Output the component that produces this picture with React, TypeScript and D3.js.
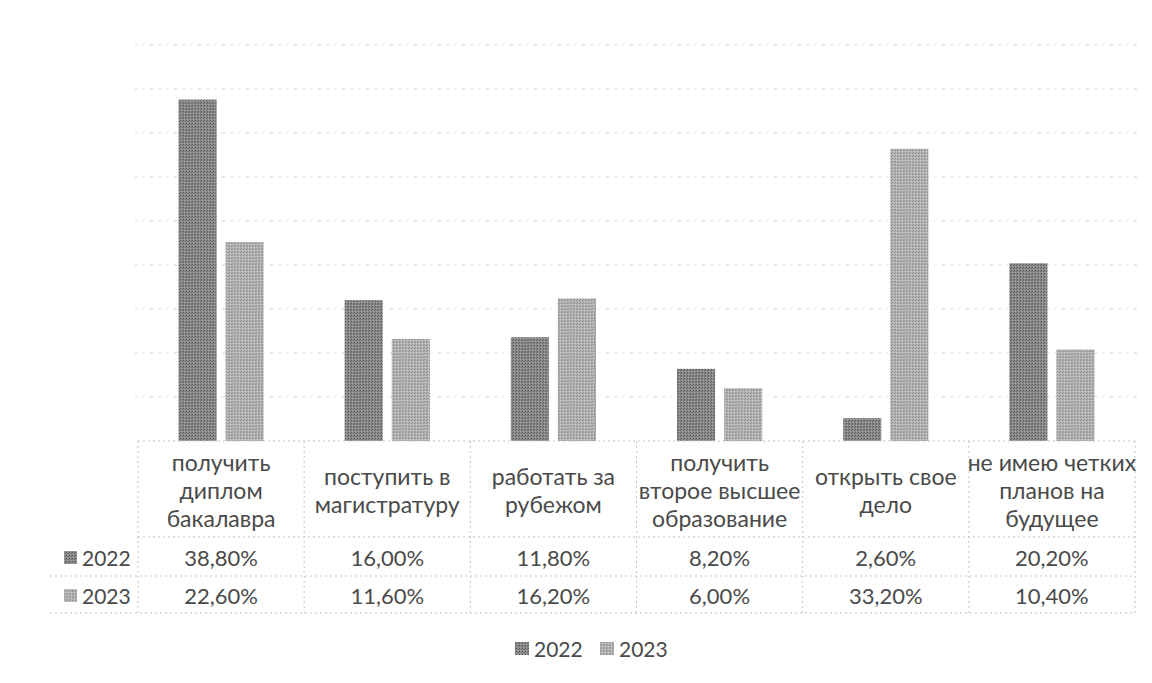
import React from "react";
import * as d3 from "d3";

const categories = [
  "получить диплом бакалавра",
  "поступить в магистратуру",
  "работать за рубежом",
  "получить второе высшее образование",
  "открыть свое дело",
  "не имею четких планов на будущее",
];
const categoryLines = [
  ["получить", "диплом", "бакалавра"],
  ["поступить в", "магистратуру"],
  ["работать за", "рубежом"],
  ["получить", "второе высшее", "образование"],
  ["открыть свое", "дело"],
  ["не имею четких", "планов на", "будущее"],
];
const seriesNames = ["2022", "2023"];
const values2022 = [38.8, 16.0, 11.8, 8.2, 2.6, 20.2];
const values2023 = [22.6, 11.6, 16.2, 6.0, 33.2, 10.4];
const yTicks = [0, 5, 10, 15, 20, 25, 30, 35, 40, 45];

const W = 1152;
const H = 683;
const FONT = "Lato, 'Open Sans', sans-serif";
const TEXT = "#4a4a4a";

const locale = d3.formatLocale({ decimal: ",", thousands: " ", grouping: [3], currency: ["", ""] });
const fmt = locale.format(".2f");

export default function App() {
  const left = 138;
  const right = 1135;
  const base = 441;
  const x0 = d3.scaleBand<string>().domain(categories).range([left, right]).paddingInner(0).paddingOuter(0);
  const x1 = d3
    .scaleBand<string>()
    .domain(seriesNames)
    .range([0, x0.bandwidth()])
    .paddingInner(0.19)
    .paddingOuter(0.86);
  const y = d3.scaleLinear().domain([0, 45]).range([base, 45]);

  const series = [
    { name: "2022", values: values2022 },
    { name: "2023", values: values2023 },
  ];

  const rowLabelY = [557, 595];
  const hLines = [base, 537, 576, 613];
  const lineH = 28;
  const labelMid = 490;
  const rowHeadLeft = 50;
  const border = "#c4c4c4";

  return (
    <svg width={W} height={H} style={{ display: "block", margin: "-8px", background: "#fff" }}>
      <defs>
        <pattern id="dither2022" width="3" height="3" patternUnits="userSpaceOnUse">
          <rect width="3" height="3" fill="#8a8a8a" />
          <rect x="0" y="0" width="1" height="1" fill="#555" />
          <rect x="2" y="1" width="1" height="1" fill="#666" />
          <rect x="1" y="2" width="1" height="1" fill="#a8a8a8" />
        </pattern>
        <pattern id="dither2023" width="3" height="3" patternUnits="userSpaceOnUse">
          <rect width="3" height="3" fill="#b2b2b2" />
          <rect x="0" y="0" width="1" height="1" fill="#888" />
          <rect x="2" y="1" width="1" height="1" fill="#d0d0d0" />
          <rect x="1" y="2" width="1" height="1" fill="#959595" />
        </pattern>
      </defs>

      {/* gridlines */}
      {yTicks.slice(1).map((t) => (
        <line
          key={t}
          x1={left - 3}
          x2={right + 5}
          y1={y(t)}
          y2={y(t)}
          stroke="#cfcfcf"
          strokeWidth={1}
          strokeDasharray="2 5 1 7 3 6"
        />
      ))}

      {/* bars */}
      {series.map((s) =>
        categories.map((c, i) => (
          <rect
            key={s.name + c}
            x={(x0(c) ?? 0) + (x1(s.name) ?? 0)}
            y={y(s.values[i])}
            width={x1.bandwidth()}
            height={base - y(s.values[i])}
            fill={`url(#dither${s.name})`}
          />
        ))
      )}

      {/* data table borders */}
      {hLines.map((hy, i) => (
        <line
          key={"h" + i}
          x1={i < 2 ? left : rowHeadLeft}
          x2={right}
          y1={hy}
          y2={hy}
          stroke={border}
          strokeWidth={1}
          strokeDasharray="2 3"
        />
      ))}
      {categories.map((c) => (
        <line
          key={"v" + c}
          x1={x0(c)}
          x2={x0(c)}
          y1={base}
          y2={613}
          stroke={border}
          strokeWidth={1}
          strokeDasharray="2 3"
        />
      ))}
      <line x1={right} x2={right} y1={base} y2={613} stroke={border} strokeDasharray="2 3" />

      {/* category labels */}
      {categories.map((c, i) => {
        const lines = categoryLines[i];
        const cx = (x0(c) ?? 0) + x0.bandwidth() / 2;
        const start = labelMid - ((lines.length - 1) * lineH) / 2;
        return (
          <text key={"l" + c} x={cx} textAnchor="middle" fontFamily={FONT} fontSize={23} fill={TEXT}>
            {lines.map((ln, j) => (
              <tspan key={j} x={cx} y={start + j * lineH} dominantBaseline="central">
                {ln}
              </tspan>
            ))}
          </text>
        );
      })}

      {/* row headers and values */}
      {series.map((s, r) => (
        <g key={"row" + s.name}>
          <rect x={64} y={rowLabelY[r] - 6} width={13} height={13} fill={`url(#dither${s.name})`} />
          <text
            x={82}
            y={rowLabelY[r]}
            dominantBaseline="central"
            fontFamily={FONT}
            fontSize={21}
            fill={TEXT}
          >
            {s.name}
          </text>
          {categories.map((c, i) => (
            <text
              key={c}
              x={(x0(c) ?? 0) + x0.bandwidth() / 2}
              y={rowLabelY[r]}
              textAnchor="middle"
              dominantBaseline="central"
              fontFamily={FONT}
              fontSize={22}
              fill={TEXT}
            >
              {fmt(s.values[i]) + "%"}
            </text>
          ))}
        </g>
      ))}

      {/* legend */}
      {series.map((s, i) => {
        const lx = 515 + i * 85;
        return (
          <g key={"lg" + s.name}>
            <rect x={lx} y={642} width={14} height={13} fill={`url(#dither${s.name})`} />
            <text x={lx + 19} y={648} dominantBaseline="central" fontFamily={FONT} fontSize={21} fill={TEXT}>
              {s.name}
            </text>
          </g>
        );
      })}
    </svg>
  );
}
